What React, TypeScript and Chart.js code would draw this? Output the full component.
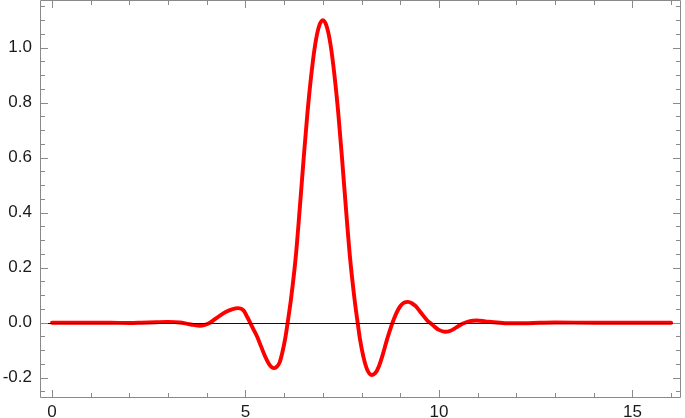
import React, { useEffect, useRef } from 'react';
import { Chart, registerables } from 'chart.js';

Chart.register(...registerables);

// Curve samples
const xValues = [
  0, 0.5, 1, 1.5, 2, 2.3, 2.7, 3.0, 3.3, 3.5, 3.65, 3.82, 3.95, 4.08, 4.2, 4.35, 4.5, 4.65, 4.82,
  4.95, 5.05, 5.12, 5.2, 5.3, 5.4, 5.5, 5.6, 5.68, 5.74, 5.8, 5.88, 5.95, 6.03, 6.09, 6.18, 6.3,
  6.4, 6.5, 6.6, 6.7, 6.8, 6.9, 7.0, 7.1, 7.2, 7.3, 7.4, 7.5, 7.6, 7.7, 7.82, 7.9, 7.96, 8.05,
  8.15, 8.26, 8.35, 8.45, 8.55, 8.65, 8.72, 8.8, 8.9, 9.0, 9.1, 9.2, 9.3, 9.4, 9.5, 9.6, 9.7,
  9.77, 9.9, 10.0, 10.15, 10.3, 10.45, 10.55, 10.67, 10.8, 10.98, 11.2, 11.5, 11.8, 12.2, 12.6,
  13, 14, 15, 16,
];
const yValues = [
  0, 0, 0, 0, -0.001, 0, 0.002, 0.003, 0.001, -0.004, -0.008, -0.011, -0.008, 0, 0.012, 0.027,
  0.04, 0.049, 0.053, 0.045, 0.02, 0, -0.022, -0.05, -0.085, -0.12, -0.148, -0.162, -0.165,
  -0.161, -0.145, -0.11, -0.055, 0, 0.09, 0.24, 0.41, 0.59, 0.76, 0.9, 1.01, 1.077, 1.1, 1.077,
  1.01, 0.9, 0.76, 0.59, 0.41, 0.24, 0.084, 0, -0.06, -0.125, -0.172, -0.19, -0.184, -0.158,
  -0.115, -0.065, -0.033, 0, 0.035, 0.06, 0.073, 0.076, 0.071, 0.06, 0.043, 0.025, 0.008, 0,
  -0.016, -0.026, -0.033, -0.029, -0.017, -0.008, 0, 0.006, 0.008, 0.005, 0.001, -0.002, -0.002,
  0, 0.001, 0, 0, 0,
];

// Axis ticks
const xMajorTicks = [0, 5, 10, 15];
const xMinorTicks = [0, 1, 2, 3, 4, 5, 6, 7, 8, 9, 10, 11, 12, 13, 14, 15, 16];
const yMajorTicks = [-0.2, 0, 0.2, 0.4, 0.6, 0.8, 1.0];
const yMinorTicks = [
  -0.25, -0.2, -0.15, -0.1, -0.05, 0, 0.05, 0.1, 0.15, 0.2, 0.25, 0.3, 0.35, 0.4, 0.45, 0.5,
  0.55, 0.6, 0.65, 0.7, 0.75, 0.8, 0.85, 0.9, 0.95, 1.0, 1.05, 1.1, 1.15,
];

const xMin = -0.31;
const xMax = 16.23;
const yMin = -0.27;
const yMax = 1.1735;

const FRAME_COLOR = '#8a8a8a';
const FONT = { family: '"Liberation Sans", Arial, sans-serif', size: 17 };

const framePlugin = {
  id: 'mmaFrame',
  afterDatasetsDraw(chart: any) {
    const { ctx, chartArea, scales } = chart;
    const y0 = Math.round(scales.y.getPixelForValue(0)) + 0.5;
    ctx.save();
    ctx.strokeStyle = '#111';
    ctx.lineWidth = 1;
    ctx.beginPath();
    ctx.moveTo(chartArea.left, y0);
    ctx.lineTo(chartArea.right, y0);
    ctx.stroke();
    ctx.restore();
  },
  afterDraw(chart: any) {
    const { ctx, chartArea, scales } = chart;
    const L = Math.round(chartArea.left) + 0.5;
    const R = Math.round(chartArea.right) + 0.5;
    const T = Math.round(chartArea.top) + 0.5;
    const B = Math.round(chartArea.bottom) + 0.5;
    ctx.save();
    ctx.strokeStyle = FRAME_COLOR;
    ctx.lineWidth = 1;
    ctx.beginPath();
    ctx.rect(L, T, R - L, B - T);
    ctx.stroke();
    const minorLen = 4.5;
    const majorLen = 7.5;
    ctx.beginPath();
    xMinorTicks.forEach((v) => {
      const len = xMajorTicks.includes(v) ? majorLen : minorLen;
      const px = Math.round(scales.x.getPixelForValue(v)) + 0.5;
      ctx.moveTo(px, B);
      ctx.lineTo(px, B - len);
      ctx.moveTo(px, T);
      ctx.lineTo(px, T + len);
    });
    yMinorTicks.forEach((v) => {
      const isMajor = yMajorTicks.some((m) => Math.abs(m - v) < 1e-9);
      const len = isMajor ? majorLen : minorLen;
      const py = Math.round(scales.y.getPixelForValue(v)) + 0.5;
      ctx.moveTo(L, py);
      ctx.lineTo(L + len, py);
      ctx.moveTo(R, py);
      ctx.lineTo(R - len, py);
    });
    ctx.stroke();
    ctx.restore();
  },
};

export default function App() {
  const canvasRef = useRef<HTMLCanvasElement | null>(null);

  useEffect(() => {
    const canvas = canvasRef.current;
    if (!canvas) return;
    const chart = new Chart(canvas, {
      type: 'line',
      data: {
        datasets: [
          {
            data: xValues.map((x, i) => ({ x, y: yValues[i] })),
            borderColor: '#ff0000',
            borderWidth: 3.9,
            pointRadius: 0,
            fill: false,
            cubicInterpolationMode: 'monotone',
            borderCapStyle: 'round',
            borderJoinStyle: 'round',
          },
        ],
      },
      options: {
        responsive: false,
        animation: false,
        devicePixelRatio: 1,
        layout: { padding: { left: 0, top: 0, right: 5, bottom: 0 } },
        plugins: { legend: { display: false }, tooltip: { enabled: false } },
        scales: {
          x: {
            type: 'linear',
            min: xMin,
            max: xMax,
            afterBuildTicks: (axis: any) => {
              axis.ticks = xMajorTicks.map((v) => ({ value: v }));
            },
            afterFit: (axis: any) => {
              axis.height = 21;
              axis.paddingLeft = 0;
              axis.paddingRight = 0;
              axis.paddingTop = 0;
              axis.paddingBottom = 0;
            },
            grid: { display: false, drawTicks: false },
            border: { display: false },
            ticks: {
              padding: 5,
              color: '#1a1a1a',
              font: FONT,
              maxRotation: 0,
              autoSkip: false,
              callback: (v: any) => String(v),
            },
          },
          y: {
            type: 'linear',
            min: yMin,
            max: yMax,
            afterBuildTicks: (axis: any) => {
              axis.ticks = yMajorTicks.map((v) => ({ value: v }));
            },
            afterFit: (axis: any) => {
              axis.width = 40;
              axis.paddingLeft = 0;
              axis.paddingRight = 0;
              axis.paddingTop = 0;
              axis.paddingBottom = 0;
            },
            grid: { display: false, drawTicks: false },
            border: { display: false },
            ticks: {
              padding: 8,
              color: '#1a1a1a',
              font: FONT,
              autoSkip: false,
              callback: (v: any) => Number(v).toFixed(1),
            },
          },
        },
      },
      plugins: [framePlugin],
    });
    return () => chart.destroy();
  }, []);

  return (
    <div style={{ position: 'absolute', left: 0, top: 0, width: 685, height: 418, background: '#fff' }}>
      <canvas ref={canvasRef} width={685} height={418} style={{ display: 'block' }} />
    </div>
  );
}
